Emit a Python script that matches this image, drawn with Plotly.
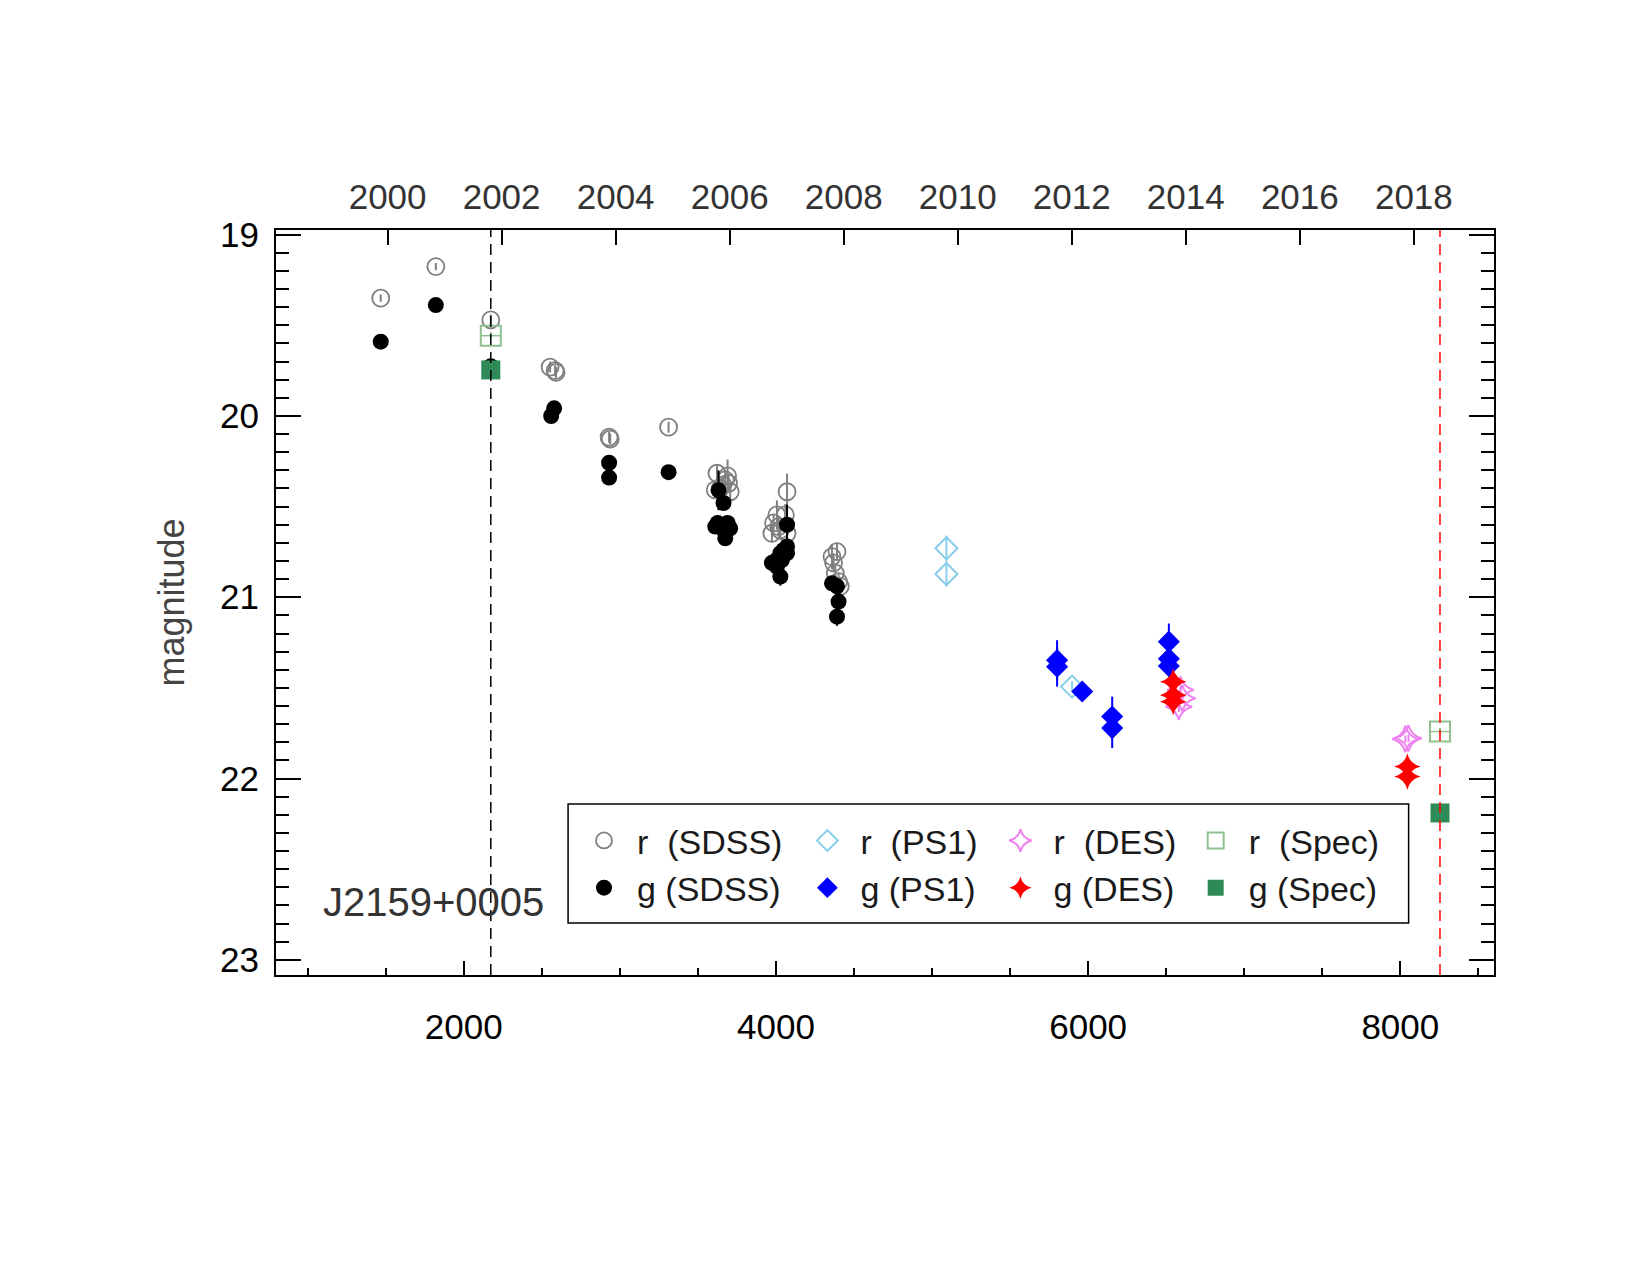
import plotly.graph_objects as go

# ---------------- data (x = MJD - 50000, y = magnitude) ----------------
r_sdss_x = [1468, 1821, 2173, 2553, 2585, 2591, 2931, 2938, 3312,
            3622, 3690, 3675, 3696, 3643, 3611, 3707, 3660,
            4071, 4006, 4060, 3985, 3974, 4028, 4071, 4017,
            4391, 4359, 4369, 4380, 4412, 4401]
r_sdss_y = [19.35, 19.176, 19.47, 19.73, 19.75, 19.76, 20.117, 20.127, 20.062,
            20.316, 20.33, 20.353, 20.371, 20.399, 20.408, 20.418, 20.38,
            20.418, 20.546, 20.546, 20.59, 20.647, 20.629, 20.647, 20.61,
            20.748, 20.776, 20.81, 20.867, 20.94, 20.914]
r_sdss_e = [0.02, 0.02, 0.03, 0.03, 0.03, 0.03, 0.03, 0.03, 0.03,
            0.04, 0.09, 0.05, 0.05, 0.05, 0.04, 0.05, 0.05,
            0.10, 0.08, 0.06, 0.05, 0.05, 0.05, 0.05, 0.05,
            0.05, 0.07, 0.05, 0.05, 0.05, 0.05]

g_sdss_x = [1468, 1821, 2173, 2579, 2560, 2931, 2931, 3312,
            3632, 3664, 3626, 3690, 3664, 3675, 3707, 3611,
            4071, 4049, 4028, 3974, 4006, 4028, 4071, 4038, 4071,
            4359, 4391, 4401, 4391]
g_sdss_y = [19.59, 19.388, 19.725, 19.958, 20.0, 20.258, 20.34, 20.31,
            20.41, 20.48, 20.59, 20.59, 20.63, 20.675, 20.62, 20.61,
            20.60, 20.739, 20.757, 20.81, 20.831, 20.886, 20.757, 20.795, 20.72,
            20.923, 20.94, 21.024, 21.107]
g_sdss_e = [0.02, 0.02, 0.04, 0.03, 0.03, 0.03, 0.03, 0.03,
            0.11, 0.04, 0.04, 0.04, 0.04, 0.04, 0.04, 0.04,
            0.11, 0.05, 0.05, 0.05, 0.05, 0.05, 0.05, 0.05, 0.05,
            0.04, 0.04, 0.04, 0.05]

r_ps1_x = [5092, 5092, 5897]
r_ps1_y = [20.73, 20.872, 21.493]
r_ps1_e = [0.07, 0.07, 0.03]

g_ps1_x = [5801, 5801, 5962, 6154, 6154, 6517, 6517, 6517]
g_ps1_y = [21.347, 21.383, 21.52, 21.658, 21.722, 21.245, 21.34, 21.379]
g_ps1_e = [0.11, 0.11, 0.02, 0.11, 0.11, 0.10, 0.06, 0.06]

r_des_x = [6592, 6603, 6581, 8032, 8052]
r_des_y = [21.511, 21.557, 21.604, 21.782, 21.778]
r_des_e = [0.03, 0.03, 0.03, 0.02, 0.02]

g_des_x = [6545, 6545, 6545, 8045, 8045]
g_des_y = [21.466, 21.54, 21.576, 21.934, 21.989]
g_des_e = [0.03, 0.03, 0.03, 0.02, 0.02]

spec_x = [2173, 8254]
r_spec_y = [19.557, 21.741]
r_spec_e = [0.02, 0.02]
g_spec_y = [19.746, 22.19]
g_spec_e = [0.02, 0.02]

years = [2000, 2002, 2004, 2006, 2008, 2010, 2012, 2014, 2016, 2018]
year2000_x = 1512          # x value of 2000.0 on the bottom axis
days_per_year = 365.25
year_tickvals = [year2000_x + (y - 2000) * days_per_year for y in years]

mag_ticks = [19, 20, 21, 22, 23]
x_range = [797, 8600]
y_range = [23.084, 18.974]

FONT = "Liberation Sans, Arial, Helvetica, sans-serif"

fig = go.Figure()


def add(x, y, e, name, symbol, color, size, legend, open_=False, lw=2, ex=None):
    marker = dict(symbol=symbol, size=size, color=color)
    if open_:
        marker["line"] = dict(color=color, width=lw)
    else:
        marker["line"] = dict(width=0)
    tr = go.Scatter(
        x=x, y=y, mode="markers", name=name, legend=legend,
        marker=marker,
        error_y=dict(type="data", array=e, visible=True, color=color,
                     thickness=2, width=0),
    )
    if ex is not None:
        tr.error_x = dict(type="data", array=ex, visible=True, color=color,
                          thickness=1.5, width=0)
    fig.add_trace(tr)


add(r_sdss_x, r_sdss_y, r_sdss_e, "r\u00a0 (SDSS)", "circle-open", "#7f7f7f", 17, "legend", True, 1.8)
add(g_sdss_x, g_sdss_y, g_sdss_e, "g (SDSS)", "circle", "#000000", 16, "legend")
add(r_ps1_x, r_ps1_y, r_ps1_e, "r\u00a0 (PS1)", "diamond-open", "#87CEEB", 17, "legend2", True, 2)
add(g_ps1_x, g_ps1_y, g_ps1_e, "g (PS1)", "diamond", "#0000FF", 17, "legend2")
add(r_des_x, r_des_y, r_des_e, "r\u00a0 (DES)", "star-diamond-open", "#EE82EE", 19, "legend3", True, 2)
add(g_des_x, g_des_y, g_des_e, "g (DES)", "star-diamond", "#FF0000", 19, "legend3")
add(spec_x, r_spec_y, r_spec_e, "r\u00a0 (Spec)", "square-open", "#8FC18F", 20, "legend4", True, 2,
    ex=[60, 60])
add(spec_x, g_spec_y, g_spec_e, "g (Spec)", "square", "#2E8B57", 19, "legend4")

# invisible trace so the top (calendar year) axis is drawn
fig.add_trace(go.Scatter(x=[x_range[0]], y=[mag_ticks[0]], xaxis="x2", mode="markers",
                         marker=dict(opacity=0), showlegend=False, hoverinfo="skip"))

# vertical dashed lines at the spectroscopic epochs
for xv, col in zip(spec_x, ["black", "red"]):
    fig.add_shape(type="line", xref="x", yref="paper", x0=xv, x1=xv, y0=0, y1=1,
                  line=dict(color=col, width=1.5, dash="11px,7px"), layer="above")

# legend box
fig.add_shape(type="rect", xref="paper", yref="paper",
              x0=0.2398, x1=0.9299, y0=0.0698, y1=0.2295,
              line=dict(color="black", width=1.5), fillcolor="white", layer="below")

leg_common = dict(orientation="v", xanchor="left", yanchor="top",
                  bgcolor="rgba(0,0,0,0)", borderwidth=0,
                  font=dict(family=FONT, size=34, color="#1a1a1a"),
                  itemwidth=56, tracegroupgap=0, traceorder="normal")
leg_y = 0.219
fig.update_layout(
    legend=dict(x=0.2422, y=leg_y, **leg_common),
    legend2=dict(x=0.4256, y=leg_y, **leg_common),
    legend3=dict(x=0.5841, y=leg_y, **leg_common),
    legend4=dict(x=0.7444, y=leg_y, **leg_common),
)

fig.add_annotation(text="J2159+0005", xref="paper", yref="paper", x=0.1295, y=0.098,
                   xanchor="center", yanchor="middle", showarrow=False,
                   font=dict(family=FONT, size=40, color="#333333"))
fig.add_annotation(text="magnitude", xref="paper", yref="paper", x=-0.0854, y=0.5,
                   xanchor="center", yanchor="middle",
                   textangle=-90, showarrow=False,
                   font=dict(family=FONT, size=36, color="#444444"))

fig.update_layout(
    width=1650, height=1275,
    margin=dict(l=276, r=156, t=230, b=300),
    paper_bgcolor="white", plot_bgcolor="white",
    font=dict(family=FONT),
    xaxis=dict(range=x_range, tickmode="linear", tick0=0, dtick=2000,
               ticks="inside", ticklen=14, tickwidth=2, tickcolor="black",
               minor=dict(dtick=500, tick0=0, ticks="inside", ticklen=7,
                          tickwidth=1.5, tickcolor="black"),
               showline=True, linewidth=2, linecolor="black", mirror=False,
               showgrid=False, zeroline=False, ticklabelstandoff=20,
               tickfont=dict(family=FONT, size=35, color="black")),
    xaxis2=dict(range=x_range, overlaying="x", side="top", anchor="y",
                tickmode="array", tickvals=year_tickvals, ticktext=[str(y) for y in years],
                ticks="inside", ticklen=15, tickwidth=1.5, tickcolor="black",
                showline=True, linewidth=2, linecolor="black",
                showgrid=False, zeroline=False, ticklabelstandoff=5,
                tickfont=dict(family=FONT, size=35, color="#333333")),
    yaxis=dict(range=y_range, tickmode="array", tickvals=mag_ticks,
               ticks="inside", ticklen=25, tickwidth=2, tickcolor="black",
               minor=dict(dtick=0.1, tick0=19, ticks="inside", ticklen=13,
                          tickwidth=1.5, tickcolor="black"),
               showline=True, linewidth=2, linecolor="black", mirror="ticks",
               showgrid=False, zeroline=False, ticklabelstandoff=8,
               tickfont=dict(family=FONT, size=35, color="black")),
)

fig.write_html("out.html")
